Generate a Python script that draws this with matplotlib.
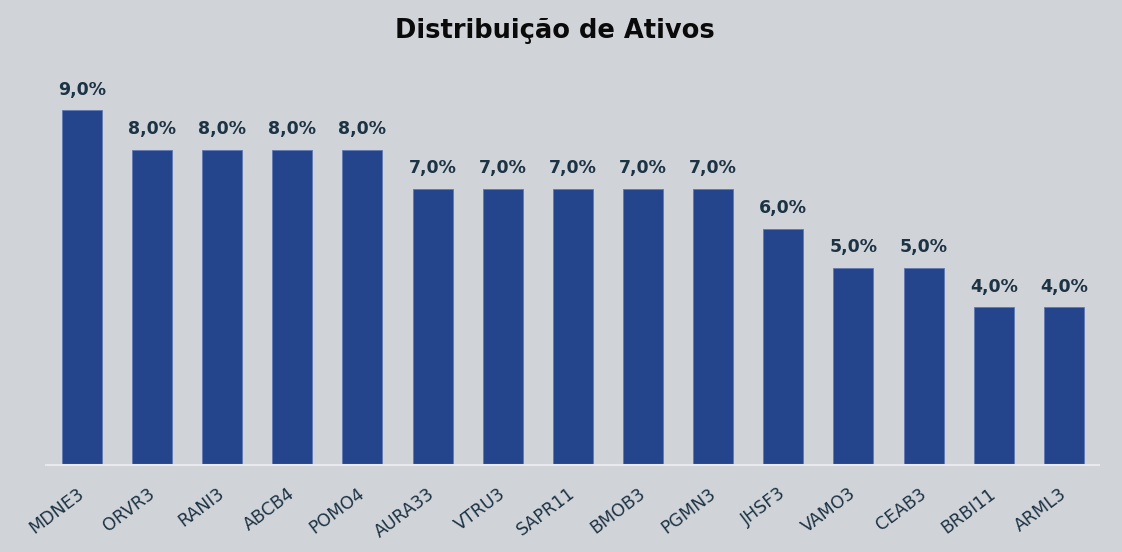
import matplotlib.pyplot as plt
import matplotlib.transforms as mtransforms

# Asset allocation data
tickers = ["MDNE3", "ORVR3", "RANI3", "ABCB4", "POMO4", "AURA33", "VTRU3", "SAPR11",
           "BMOB3", "PGMN3", "JHSF3", "VAMO3", "CEAB3", "BRBI11", "ARML3"]
weights = [9.0, 8.0, 8.0, 8.0, 8.0, 7.0, 7.0, 7.0, 7.0, 7.0, 6.0, 5.0, 5.0, 4.0, 4.0]

bg = "#d0d3d8"
bar_color = "#24448c"
text_color = "#1c3344"

plt.rcParams["font.family"] = ["DejaVu Sans"]

fig = plt.figure(figsize=(11.22, 5.52), dpi=100, facecolor=bg)
ax = fig.add_axes([46 / 1122, 87 / 552, 1053 / 1122, 394 / 552], facecolor=bg)

x = range(len(tickers))
bars = ax.bar(x, weights, width=0.57, color=bar_color, edgecolor="#5f77b3", linewidth=0.6, zorder=2)

for b, w in zip(bars, weights):
    ax.text(b.get_x() + b.get_width() / 2, w + 0.3, f"{w:.1f}%".replace(".", ","),
            ha="center", va="bottom", fontsize=12.5, fontweight="bold", color=text_color)

ax.set_xlim(-0.51, 14.5)
ax.set_ylim(0, 10)
ax.set_xticks(list(x))
ax.set_xticklabels(tickers, rotation=37, ha="right", rotation_mode="anchor",
                   fontsize=12.5, color=text_color)
ax.tick_params(axis="x", length=0, pad=14)
shift = mtransforms.ScaledTranslation(-5 / 100, 0, fig.dpi_scale_trans)
for lbl in ax.get_xticklabels():
    lbl.set_transform(lbl.get_transform() + shift)
ax.set_yticks([])
for s in ["top", "right", "left"]:
    ax.spines[s].set_visible(False)
ax.spines["bottom"].set_color("#e8e9ec")
ax.spines["bottom"].set_linewidth(1.5)

fig.text(555 / 1122, 1 - 31 / 552, "Distribuição de Ativos", ha="center", va="center",
         fontsize=18.5, fontweight="bold", color="#0a0a0a")

plt.savefig("out.png", dpi=100, facecolor=bg)
